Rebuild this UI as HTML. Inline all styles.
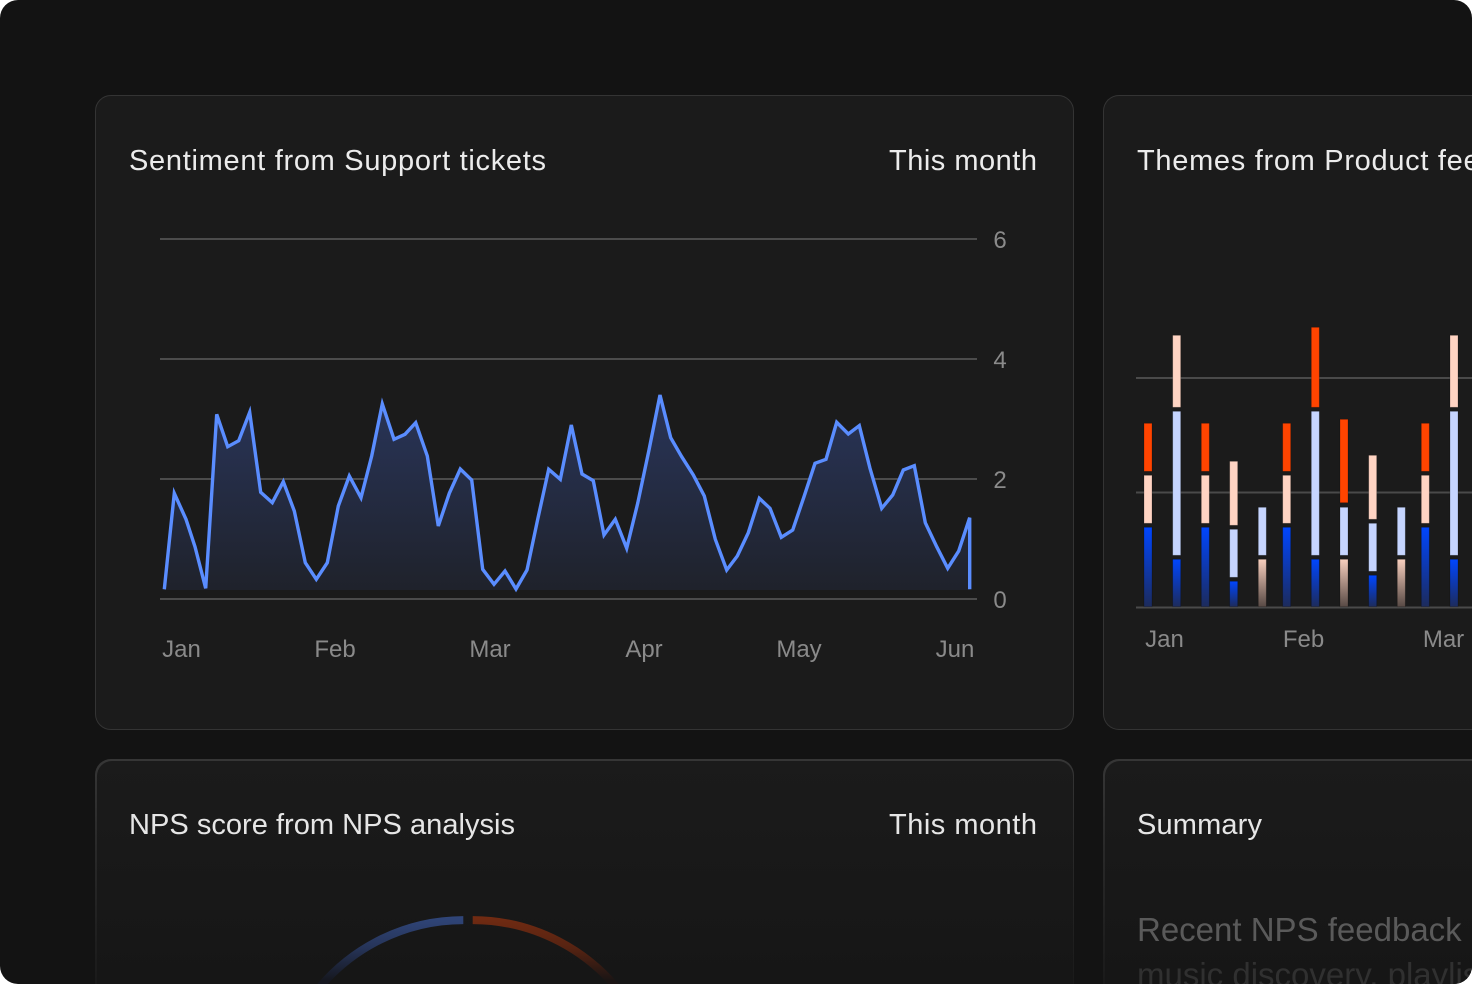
<!DOCTYPE html>
<html><head><meta charset="utf-8"><style>
html,body{margin:0;padding:0;background:#ffffff;width:1472px;height:984px;overflow:hidden;}
.frame{position:absolute;left:0;top:0;width:1472px;height:984px;border-radius:18px;background:#131313;overflow:hidden;}
.card{position:absolute;box-sizing:border-box;border-radius:16px;background:#1b1b1b;border:1.5px solid #343434;}
.card.r{border-right:none;border-radius:16px 0 0 16px;}
.fcard{position:absolute;box-sizing:border-box;border-radius:16px 16px 0 0;padding:1.5px 1.5px 0 1.5px;background:linear-gradient(#363636 0px,#2a2a2a 80px,#1a1a1a 225px);}
.fcard.r{padding-right:0;border-radius:16px 0 0 0;}
.fcard .in{width:100%;height:100%;border-radius:15px 15px 0 0;background:linear-gradient(#1b1b1b,#161616 225px);}
.fcard.r .in{border-radius:15px 0 0 0;}
svg{position:absolute;left:0;top:0;}
</style></head><body>
<div class="frame">
  <div class="card" style="left:95px;top:95px;width:979px;height:635px;"></div>
  <div class="card r" style="left:1103px;top:95px;width:369px;height:635px;"></div>
  <div class="fcard" style="left:95px;top:759px;width:979px;height:225px;"><div class="in"></div></div>
  <div class="fcard r" style="left:1103px;top:759px;width:369px;height:225px;"><div class="in"></div></div>

  <svg width="1472" height="984" viewBox="0 0 1472 984" xmlns="http://www.w3.org/2000/svg">
    <defs>
      <linearGradient id="area" x1="0" y1="395" x2="0" y2="590" gradientUnits="userSpaceOnUse">
        <stop offset="0" stop-color="#29355a"/>
        <stop offset="1" stop-color="#1f222b"/>
      </linearGradient>
      <linearGradient id="bg" x1="0" y1="0" x2="0" y2="1">
        <stop offset="0" stop-color="#0046ff"/>
        <stop offset="1" stop-color="#1c2b5c"/>
      </linearGradient>
      <linearGradient id="pg" x1="0" y1="0" x2="0" y2="1">
        <stop offset="0" stop-color="#f8cfbe"/>
        <stop offset="1" stop-color="#584a45"/>
      </linearGradient>
      <linearGradient id="garcb" x1="0" y1="916" x2="0" y2="980" gradientUnits="userSpaceOnUse">
        <stop offset="0" stop-color="#30467a"/>
        <stop offset="0.5" stop-color="#263458"/>
        <stop offset="1" stop-color="#161820"/>
      </linearGradient>
      <linearGradient id="garcr" x1="0" y1="916" x2="0" y2="980" gradientUnits="userSpaceOnUse">
        <stop offset="0" stop-color="#722b12"/>
        <stop offset="0.5" stop-color="#562312"/>
        <stop offset="1" stop-color="#1b1514"/>
      </linearGradient>
    </defs>

    <g font-family="'Liberation Sans', Arial, sans-serif">
      <!-- Card 1 -->
      <text x="129" y="170" font-size="29" textLength="417" lengthAdjust="spacing" fill="#ececec">Sentiment from Support tickets</text>
      <text x="889" y="170" font-size="29" textLength="148" lengthAdjust="spacing" fill="#ececec">This month</text>

      <g stroke="#4c4c4c" stroke-width="2">
        <line x1="160" y1="239" x2="977" y2="239"/>
        <line x1="160" y1="359" x2="977" y2="359"/>
        <line x1="160" y1="479" x2="977" y2="479"/>
        <line x1="160" y1="599" x2="977" y2="599"/>
      </g>
      <g font-size="24" fill="#8a8a8a" text-anchor="middle">
        <text x="1000" y="248">6</text>
        <text x="1000" y="368">4</text>
        <text x="1000" y="488">2</text>
        <text x="1000" y="608">0</text>
        <text x="181.5" y="657">Jan</text>
        <text x="335" y="657">Feb</text>
        <text x="490" y="657">Mar</text>
        <text x="644" y="657">Apr</text>
        <text x="799" y="657">May</text>
        <text x="955" y="657">Jun</text>
      </g>

      <polygon fill="url(#area)" points="164.3,590 164.3,589.3 174.3,493.3 186,519.3 195,546.7 205.7,588.3 216.7,414.3 227.7,446.7 238.7,440.7 249.7,412.3 260.7,492.3 272.3,502.7 283.3,481.7 294.3,511 305.3,562.7 316.3,579.3 327.3,562.7 338.3,506 349.3,476 361,497.7 371.7,456 382.3,404 394,439.3 405,434.3 415.7,422.7 427.3,456 438.3,526 449.3,493.3 460.3,469 471.7,480 482.7,569.3 494,584.3 505,571 516,589 527,570 537.7,519.3 548.7,469.3 560.3,479.3 571.3,425 582,474 593.3,480.7 604,535 615.3,519.3 626.7,548.3 637.7,503.3 649,450 660,395 670.7,437.7 681.7,456.7 693.3,475 704.3,496 715.3,539.3 726.7,570 737.3,556 748.3,532.7 759.3,498.3 770,508.3 781.3,537.3 792.7,530 804,496.7 815,463.3 826,459.3 836.7,422.3 848.3,434 859.3,425.7 870,468.3 881.7,508.3 892.7,495 903.3,470 914.3,465.7 925.3,522.7 936.7,546.7 947.7,568.3 958.7,551 969.7,517.7 969.7,590"/>
      <polyline fill="none" stroke="#5a8dff" stroke-width="3.4" stroke-linejoin="miter" stroke-miterlimit="4" points="164.3,589.3 174.3,493.3 186,519.3 195,546.7 205.7,588.3 216.7,414.3 227.7,446.7 238.7,440.7 249.7,412.3 260.7,492.3 272.3,502.7 283.3,481.7 294.3,511 305.3,562.7 316.3,579.3 327.3,562.7 338.3,506 349.3,476 361,497.7 371.7,456 382.3,404 394,439.3 405,434.3 415.7,422.7 427.3,456 438.3,526 449.3,493.3 460.3,469 471.7,480 482.7,569.3 494,584.3 505,571 516,589 527,570 537.7,519.3 548.7,469.3 560.3,479.3 571.3,425 582,474 593.3,480.7 604,535 615.3,519.3 626.7,548.3 637.7,503.3 649,450 660,395 670.7,437.7 681.7,456.7 693.3,475 704.3,496 715.3,539.3 726.7,570 737.3,556 748.3,532.7 759.3,498.3 770,508.3 781.3,537.3 792.7,530 804,496.7 815,463.3 826,459.3 836.7,422.3 848.3,434 859.3,425.7 870,468.3 881.7,508.3 892.7,495 903.3,470 914.3,465.7 925.3,522.7 936.7,546.7 947.7,568.3 958.7,551 969.7,517.7 969.7,589.3"/>

      <!-- Card 2 -->
      <text x="1137" y="170" font-size="29" letter-spacing="0.7" fill="#ececec">Themes from Product feedback</text>
      <g stroke="#4a4a4a" stroke-width="2">
        <line x1="1136" y1="378" x2="1472" y2="378"/>
        <line x1="1136" y1="492.5" x2="1472" y2="492.5"/>
        <line x1="1136" y1="607.5" x2="1472" y2="607.5"/>
      </g>
      <g stroke="rgba(0,0,0,0.25)" stroke-width="0.8">
        <rect x="1144" y="423.3" width="8" height="48" fill="#ff4400"/>
        <rect x="1144" y="475.3" width="8" height="48" fill="#ffd4c3"/>
        <rect x="1144" y="527.3" width="8" height="79.4" fill="url(#bg)"/>
        <rect x="1172.7" y="335.3" width="8" height="72" fill="#ffd4c3"/>
        <rect x="1172.7" y="411.3" width="8" height="144" fill="#c6d5ff"/>
        <rect x="1172.7" y="559.3" width="8" height="47.4" fill="url(#bg)"/>
        <rect x="1201.3" y="423.3" width="8" height="48" fill="#ff4400"/>
        <rect x="1201.3" y="475.3" width="8" height="48" fill="#ffd4c3"/>
        <rect x="1201.3" y="527.3" width="8" height="79.4" fill="url(#bg)"/>
        <rect x="1229.7" y="461.3" width="8" height="64" fill="#ffd4c3"/>
        <rect x="1229.7" y="529.3" width="8" height="48" fill="#c6d5ff"/>
        <rect x="1229.7" y="581.3" width="8" height="25.4" fill="url(#bg)"/>
        <rect x="1258.3" y="507.3" width="8" height="48" fill="#c6d5ff"/>
        <rect x="1258.3" y="559.3" width="8" height="47.4" fill="url(#pg)"/>
        <rect x="1282.7" y="423.3" width="8" height="48" fill="#ff4400"/>
        <rect x="1282.7" y="475.3" width="8" height="48" fill="#ffd4c3"/>
        <rect x="1282.7" y="527.3" width="8" height="79.4" fill="url(#bg)"/>
        <rect x="1311.3" y="327.3" width="8" height="80" fill="#ff4400"/>
        <rect x="1311.3" y="411.3" width="8" height="144" fill="#c6d5ff"/>
        <rect x="1311.3" y="559.3" width="8" height="47.4" fill="url(#bg)"/>
        <rect x="1340" y="419.3" width="8" height="83.4" fill="#ff4400"/>
        <rect x="1340" y="507.3" width="8" height="48" fill="#c6d5ff"/>
        <rect x="1340" y="559.3" width="8" height="47.4" fill="url(#pg)"/>
        <rect x="1368.7" y="455.3" width="8" height="64" fill="#ffd4c3"/>
        <rect x="1368.7" y="523.3" width="8" height="48" fill="#c6d5ff"/>
        <rect x="1368.7" y="575.3" width="8" height="31.4" fill="url(#bg)"/>
        <rect x="1397.3" y="507.3" width="8" height="48" fill="#c6d5ff"/>
        <rect x="1397.3" y="559.3" width="8" height="47.4" fill="url(#pg)"/>
        <rect x="1421.3" y="423.3" width="8" height="48" fill="#ff4400"/>
        <rect x="1421.3" y="475.3" width="8" height="48" fill="#ffd4c3"/>
        <rect x="1421.3" y="527.3" width="8" height="79.4" fill="url(#bg)"/>
        <rect x="1450" y="335.3" width="8" height="72" fill="#ffd4c3"/>
        <rect x="1450" y="411.3" width="8" height="144" fill="#c6d5ff"/>
        <rect x="1450" y="559.3" width="8" height="47.4" fill="url(#bg)"/>
      </g>
      <g font-size="24" fill="#8a8a8a" text-anchor="middle">
        <text x="1164.5" y="647">Jan</text>
        <text x="1303.5" y="647">Feb</text>
        <text x="1443.5" y="647">Mar</text>
      </g>

      <!-- Card 3 -->
      <text x="129" y="834" font-size="29" textLength="386" lengthAdjust="spacingAndGlyphs" fill="#e6e6e6">NPS score from NPS analysis</text>
      <text x="889" y="834" font-size="29" textLength="148" lengthAdjust="spacing" fill="#e6e6e6">This month</text>
      <path d="M 463.3 920.1 A 188 188 0 0 0 310 1000" fill="none" stroke="url(#garcb)" stroke-width="8"/>
      <path d="M 472.7 920.1 A 188 188 0 0 1 626 1000" fill="none" stroke="url(#garcr)" stroke-width="8"/>

      <!-- Card 4 -->
      <text x="1137" y="834" font-size="29" textLength="125" lengthAdjust="spacing" fill="#e6e6e6">Summary</text>
      <text x="1137" y="941" font-size="33" fill="#5a5a5a">Recent NPS feedback highlights</text>
      <text x="1137" y="986" font-size="33" fill="#303030">music discovery, playlists and</text>
    </g>
  </svg>
</div>
</body></html>
